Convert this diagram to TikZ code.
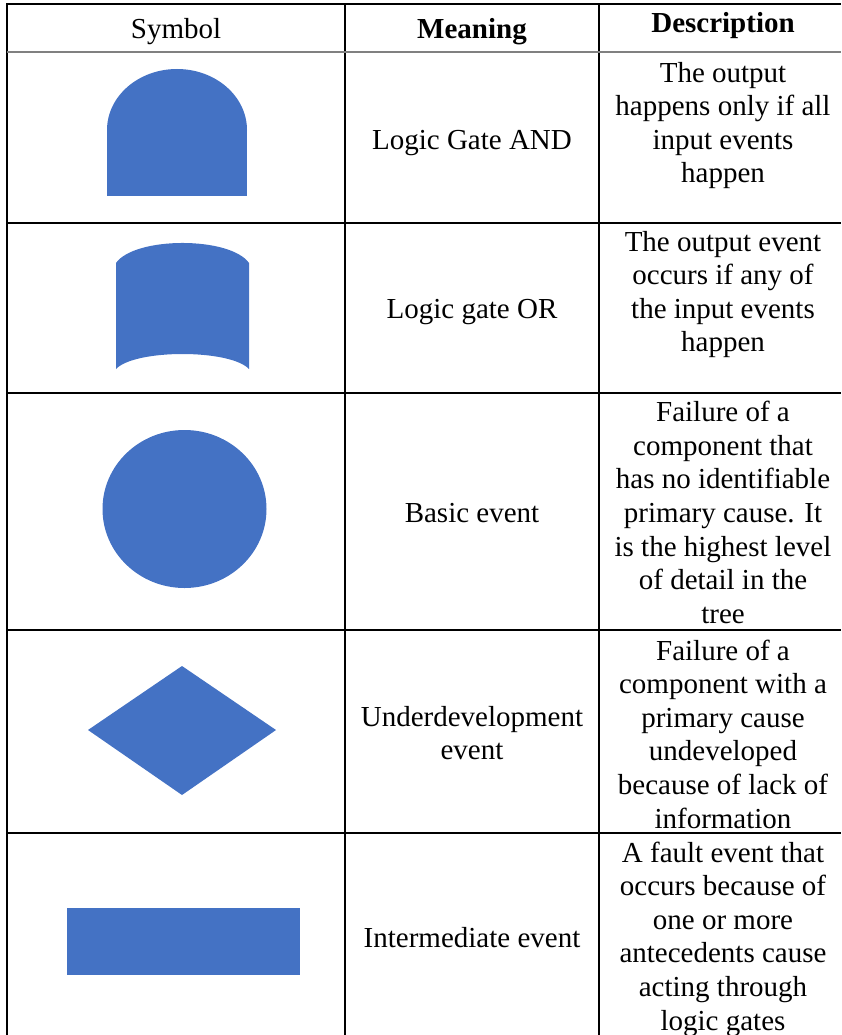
\documentclass[tikz,border=0pt]{standalone}
\usepackage{fontspec}
\setmainfont{Liberation Serif}
\definecolor{shapeblue}{HTML}{4472C4}
\definecolor{headgray}{HTML}{808080}
\begin{document}
\begin{tikzpicture}[x=1pt,y=-1pt,
  rule/.style={line width=2pt,black},
  headrule/.style={line width=2pt,headgray},
  sym/.style={fill=shapeblue,draw=none},
  txt/.style={font=\fontsize{29}{33.6}\selectfont,align=center,inner sep=0pt},
  head/.style={font=\fontsize{29}{33.6}\selectfont,inner sep=0pt}]
\useasboundingbox (0,0) rectangle (841,1035);
% grid
\draw[rule] (7,1035) -- (7,4) -- (841,4);
\draw[rule] (345,4) -- (345,1035);
\draw[rule] (599,4) -- (599,1035);
\draw[headrule] (7,52) -- (841,52);
\draw[rule] (7,223) -- (841,223);
\draw[rule] (7,392.7) -- (841,392.7);
\draw[rule] (7,629.7) -- (841,629.7);
\draw[rule] (7,833.3) -- (841,833.3);
% header
\node[head] (hsym) at (176,32) {Symbol};
\node[head,font=\fontsize{29}{33.6}\selectfont\bfseries] (hmean) at (472,32) {Meaning};
\node[head,font=\fontsize{29}{33.6}\selectfont\bfseries] (hdesc) at (723,25.5) {Description};
% symbols
\fill[sym] (177,130) ellipse [x radius=70pt, y radius=61pt];
\fill[sym] (107,130) rectangle (247,196);
\fill[sym] (116,263) .. controls (135,236.3) and (230,236.3) .. (249,263)
  -- (249,369) .. controls (230,349) and (135,349) .. (116,369) -- cycle;
\fill[sym] (184.5,509) ellipse [x radius=82pt, y radius=79pt];
\fill[sym] (88,730) -- (182,666) -- (276,730) -- (182,795) -- cycle;
\fill[sym] (67,908) rectangle (300,975);
% meanings
\node[txt] (m1) at (472,143) {Logic Gate AND};
\node[txt] (m2) at (472,312) {Logic gate OR};
\node[txt] (m3) at (472,513) {Basic event};
\node[txt] (m4) at (472,733) {Underdevelopment\\event};
\node[txt] (m5) at (472,938) {Intermediate event};
% descriptions
\node[txt] (d1) at (723,125.5) {The output\\happens only if all\\input events\\happen};
\node[txt] (d2) at (723,294.5) {The output event\\occurs if any of\\the input events\\happen};
\node[txt] (d3) at (723,512.5) {Failure of a\\component that\\has no identifiable\\primary cause. It\\is the highest level\\of detail in the\\tree};
\node[txt] (d4) at (723,734) {Failure of a\\component with a\\primary cause\\undeveloped\\because of lack of\\information};
\node[txt] (d5) at (723,939) {A fault event that\\occurs because of\\one or more\\antecedents cause\\acting through\\logic gates};
\end{tikzpicture}
\end{document}
